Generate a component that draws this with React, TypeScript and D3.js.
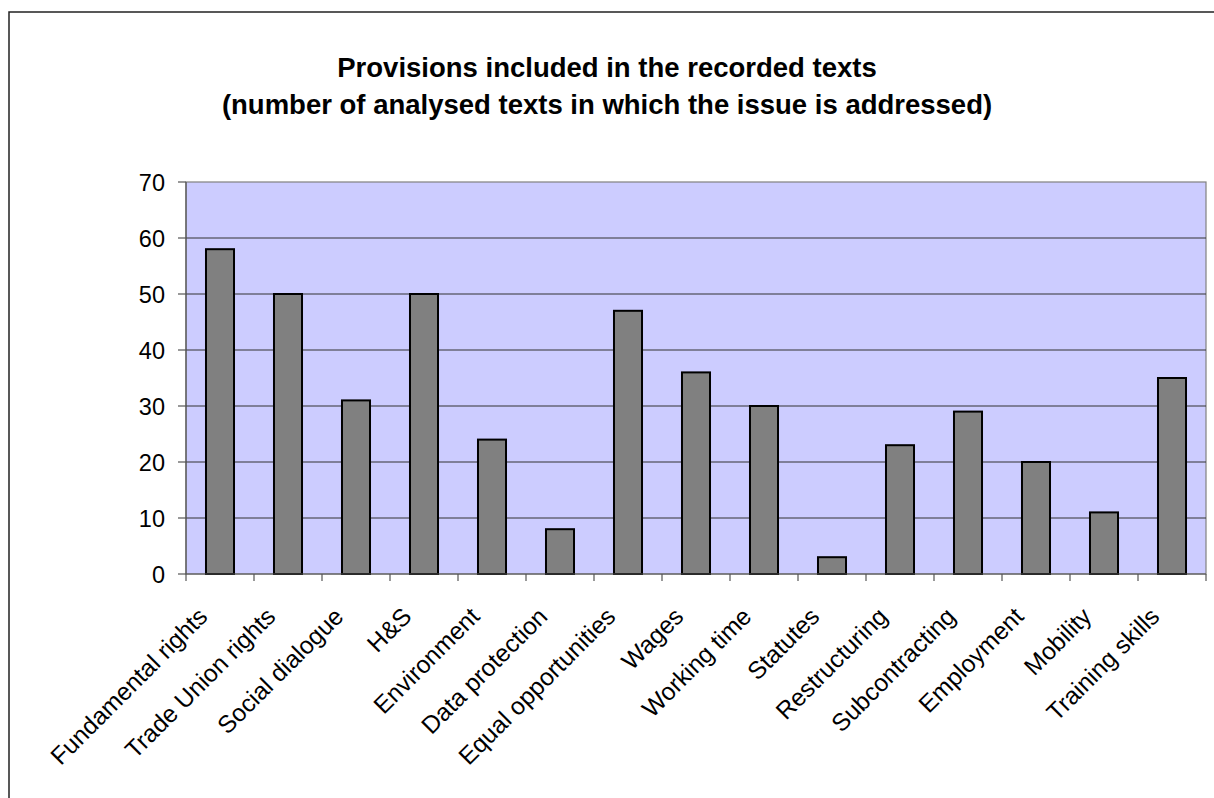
import React from "react";
import * as d3 from "d3";

const titleLines = [
  "Provisions included in the recorded texts",
  "(number of analysed texts in which the issue is addressed)",
];
const categories = [
  "Fundamental rights",
  "Trade Union rights",
  "Social dialogue",
  "H&S",
  "Environment",
  "Data protection",
  "Equal opportunities",
  "Wages",
  "Working time",
  "Statutes",
  "Restructuring",
  "Subcontracting",
  "Employment",
  "Mobility",
  "Training skills",
];
const values = [58, 50, 31, 50, 24, 8, 47, 36, 30, 3, 23, 29, 20, 11, 35];
const yTicks = [0, 10, 20, 30, 40, 50, 60, 70];

const W = 1214;
const H = 798;
const plot = { left: 186, right: 1206, top: 182, bottom: 574 };
const FONT = "'Liberation Sans', Arial, Helvetica, sans-serif";

export default function App() {
  const x = d3
    .scaleBand<string>()
    .domain(categories)
    .range([plot.left, plot.right])
    .paddingInner(0.588)
    .paddingOuter(0.294);
  const y = d3.scaleLinear().domain([0, 70]).range([plot.bottom, plot.top]);
  const step = x.step();
  const boundaries = d3.range(categories.length + 1).map((i) => plot.left + i * step);

  return (
    <svg
      width={W}
      height={H}
      style={{ position: "absolute", left: 0, top: 0, background: "#fff" }}
      fontFamily={FONT}
    >
      <rect x={9} y={12} width={W + 20} height={H + 20} fill="#fff" stroke="#222" strokeWidth={1.5} />
      {titleLines.map((t, i) => (
        <text
          key={i}
          x={607}
          y={77 + i * 36.5}
          textAnchor="middle"
          fontWeight="bold"
          fontSize={27.5}
          fill="#000"
        >
          {t}
        </text>
      ))}
      <rect
        x={plot.left}
        y={plot.top}
        width={plot.right - plot.left}
        height={plot.bottom - plot.top}
        fill="#CCCCFF"
        stroke="#808080"
        strokeWidth={1.2}
      />
      {yTicks.slice(1, -1).map((t) => (
        <line key={t} x1={plot.left} x2={plot.right} y1={y(t)} y2={y(t)} stroke="#333" strokeWidth={1} />
      ))}
      {categories.map((c, i) => (
        <rect
          key={c}
          x={x(c)}
          y={y(values[i])}
          width={x.bandwidth()}
          height={y(0) - y(values[i])}
          fill="#808080"
          stroke="#000"
          strokeWidth={2}
        />
      ))}
      <line x1={plot.left} x2={plot.left} y1={plot.top} y2={plot.bottom} stroke="#555" strokeWidth={1.2} />
      <line x1={plot.left} x2={plot.right} y1={plot.bottom} y2={plot.bottom} stroke="#555" strokeWidth={1.2} />
      {yTicks.map((t) => (
        <g key={t}>
          <line x1={plot.left - 8} x2={plot.left} y1={y(t)} y2={y(t)} stroke="#555" strokeWidth={1.2} />
          <text x={165} y={y(t) + 8.5} textAnchor="end" fontSize={23.5} fill="#000">
            {t}
          </text>
        </g>
      ))}
      {boundaries.map((b, i) => (
        <line key={i} x1={b} x2={b} y1={plot.bottom} y2={plot.bottom + 7} stroke="#555" strokeWidth={1.2} />
      ))}
      {categories.map((c) => {
        const cx = (x(c) as number) + x.bandwidth() / 2;
        return (
          <text
            key={c}
            transform={`translate(${cx - 11},${plot.bottom + 44}) rotate(-45)`}
            textAnchor="end"
            fontSize={24.5}
            fill="#000"
          >
            {c}
          </text>
        );
      })}
    </svg>
  );
}
